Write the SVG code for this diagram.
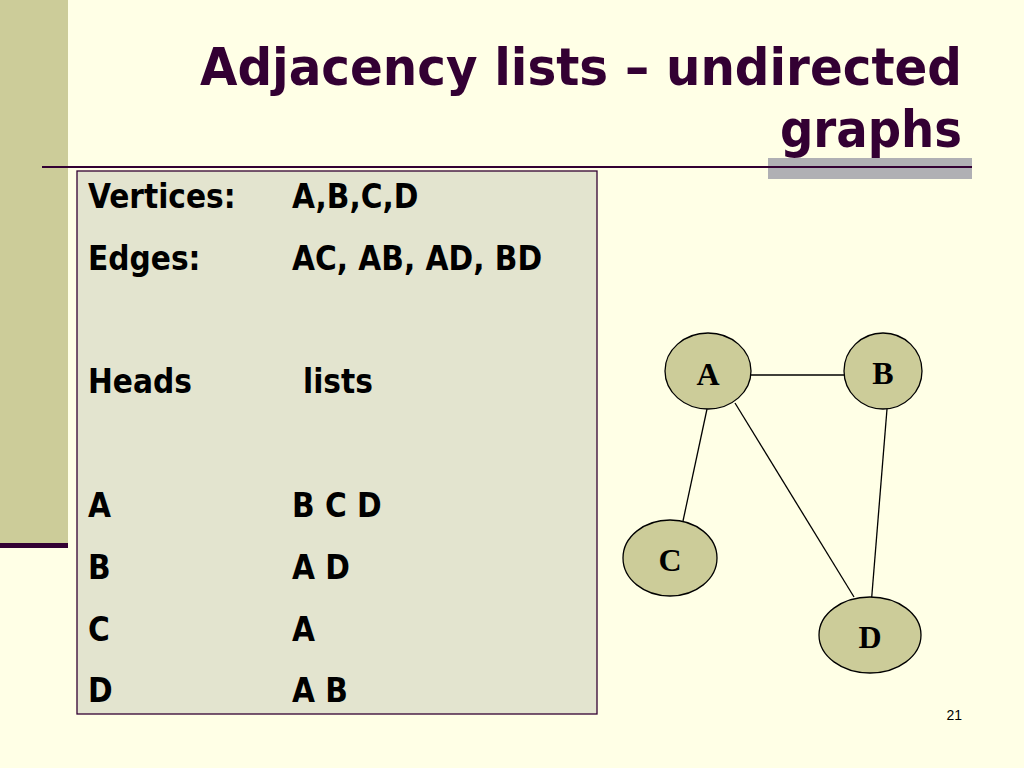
<svg xmlns="http://www.w3.org/2000/svg" width="1024" height="768" viewBox="0 0 1024 768">
<style>
.title{font-family:"DejaVu Sans Condensed","DejaVu Sans",sans-serif;font-weight:bold;font-size:51px;fill:#330033}
.tx{font-family:"DejaVu Sans Condensed","DejaVu Sans",sans-serif;font-weight:bold;font-size:33px;fill:#000}
.node ellipse{fill:#CCCC99;stroke:#000;stroke-width:1.3}
.node text{font-family:"Liberation Serif","Times New Roman",serif;font-weight:bold;font-size:32px;fill:#000;text-anchor:middle}
.edge{stroke:#000;stroke-width:1.3;fill:none}
</style>
<rect width="1024" height="768" fill="#FFFFE6"/>
<rect x="0" y="0" width="68" height="543" fill="#CCCC99"/>
<rect x="0" y="543" width="68" height="5" fill="#330033"/>
<rect x="768" y="158" width="204" height="21" fill="#B0B0B4"/>
<rect x="42" y="166" width="930" height="2" fill="#330033"/>
<g id="title">
<text class="title" x="962" y="85" text-anchor="end" textLength="762" lengthAdjust="spacingAndGlyphs">Adjacency lists – undirected</text>
<text class="title" x="962" y="147" text-anchor="end" textLength="182" lengthAdjust="spacingAndGlyphs">graphs</text>
</g>
<g id="table">
<rect x="77" y="171" width="520" height="543" fill="#E3E4CF" stroke="#330033" stroke-width="1.3"/>
<text class="tx" x="88" y="208">Vertices:</text>
<text class="tx" x="292" y="208">A,B,C,D</text>
<text class="tx" x="88" y="270">Edges:</text>
<text class="tx" x="292" y="270">AC, AB, AD, BD</text>
<text class="tx" x="88" y="393">Heads</text>
<text class="tx" x="303" y="393">lists</text>
<text class="tx" x="88" y="517">A</text>
<text class="tx" x="292" y="517">B C D</text>
<text class="tx" x="88" y="579">B</text>
<text class="tx" x="292" y="579">A D</text>
<text class="tx" x="88" y="641">C</text>
<text class="tx" x="292" y="641">A</text>
<text class="tx" x="88" y="702">D</text>
<text class="tx" x="292" y="702">A B</text>
</g>
<g id="connectors">
<line class="edge" x1="751" y1="375" x2="844" y2="375"/>
<line class="edge" x1="707" y1="409" x2="683" y2="521"/>
<line class="edge" x1="735" y1="403" x2="854" y2="597"/>
<line class="edge" x1="887" y1="409" x2="871" y2="606"/>
</g>
<g id="node-A" class="node"><ellipse cx="708" cy="371" rx="43" ry="38"/><text x="708" y="385">A</text></g>
<g id="node-B" class="node"><ellipse cx="883" cy="371" rx="39" ry="38"/><text x="883" y="384">B</text></g>
<g id="node-C" class="node"><ellipse cx="670" cy="558" rx="47" ry="38"/><text x="670" y="571">C</text></g>
<g id="node-D" class="node"><ellipse cx="870" cy="635" rx="51" ry="38"/><text x="870" y="648">D</text></g>
<text x="962" y="720" text-anchor="end" font-family="Liberation Sans, Arial, sans-serif" font-size="14" fill="#000">21</text>
</svg>
